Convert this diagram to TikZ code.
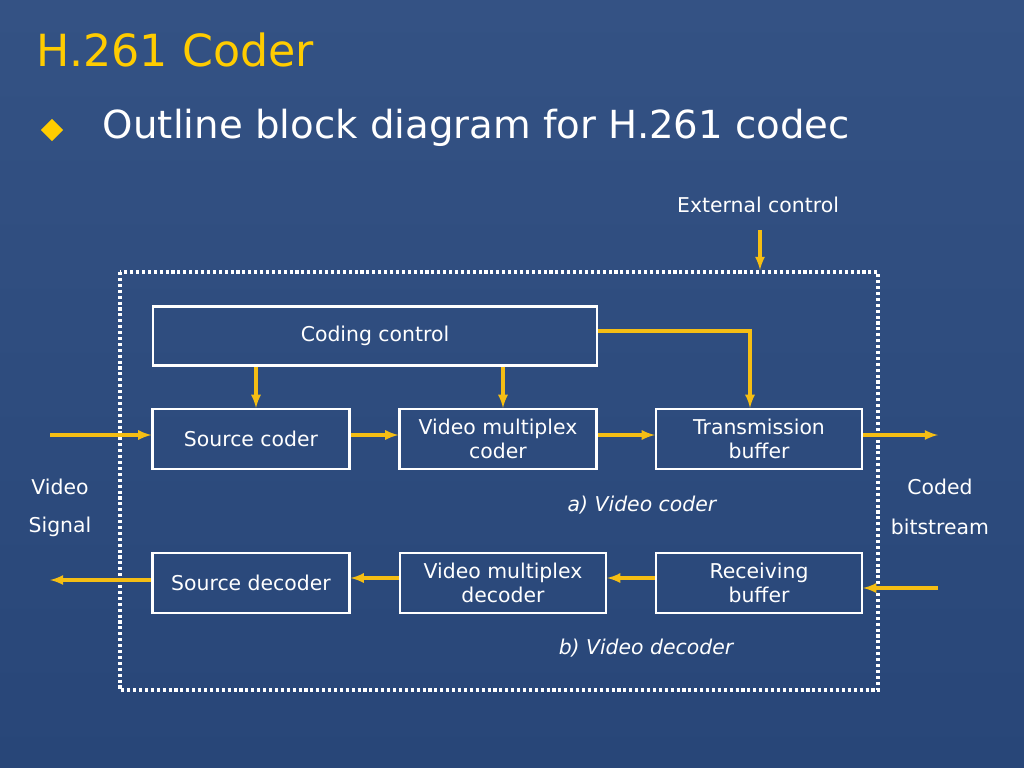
\documentclass[tikz,border=0pt]{standalone}
\usepackage{fontspec}
\setmainfont{DejaVu Sans}
\usetikzlibrary{positioning}
\usetikzlibrary{shapes.geometric}
\definecolor{bgtop}{RGB}{52,82,132}
\definecolor{bgbot}{RGB}{40,70,120}
\definecolor{ttl}{RGB}{255,204,0}
\definecolor{arr}{RGB}{245,190,20}
\begin{document}
\begin{tikzpicture}[x=0.025cm, y=-0.025cm, >=latex,
    blk/.style={rectangle, draw=white, line width=1.6pt, fill=none,
      text=white, align=center, font=\fontsize{14.5}{17}\selectfont, inner sep=1pt},
    lbl/.style={text=white, font=\fontsize{14.5}{17}\selectfont},
    ar/.style={->, draw=arr, line width=2.2pt},
  ]
\fill[top color=bgtop, bottom color=bgbot] (0,0) rectangle (1024,768);
\useasboundingbox (0,0) rectangle (1024,768);
% Title
\node(title)[anchor=west, text=ttl, font=\fontsize{31.5}{34}\selectfont] at (32,50) {H.261 Coder};
\node(bul)[diamond, fill=ttl, inner sep=0pt, minimum size=16pt] at (52,130) {};
\node(sub)[anchor=west, text=white, font=\fontsize{27.5}{30}\selectfont] at (98,128) {Outline block diagram for H.261 codec};
% Frame
\draw[white, line width=2.2pt, dotted] (120,272) rectangle (878,690);
% Blocks
\node(cc)[blk, minimum width=444*0.025cm, minimum height=59*0.025cm] at (375,336) {Coding control};
\node(sc)[blk, minimum width=197*0.025cm, minimum height=60*0.025cm] at (251,439) {Source coder};
\node(vmc)[blk, minimum width=197*0.025cm, minimum height=60*0.025cm] at (498,439) {Video multiplex\\coder};
\node(tb)[blk, minimum width=206*0.025cm, minimum height=60*0.025cm] at (759,439) {Transmission\\buffer};
\node(sd)[blk, minimum width=197*0.025cm, minimum height=60*0.025cm] at (251,583) {Source decoder};
\node(vmd)[blk, minimum width=206*0.025cm, minimum height=60*0.025cm] at (503,583) {Video multiplex\\decoder};
\node(rb)[blk, minimum width=206*0.025cm, minimum height=60*0.025cm] at (759,583) {Receiving\\buffer};
% Labels
\node(ext)[lbl] at (758,205) {External control};
\node(vid)[lbl] at (60,487) {Video};
\node(sig)[lbl] at (60,527) {Signal};
\node(cod)[lbl] at (940,487) {Coded};
\node(bit)[lbl] at (940,527) {bitstream};
\node(ca)[lbl, font=\fontsize{14.5}{17}\selectfont\itshape] at (642,505) {a) Video coder};
\node(cb)[lbl, font=\fontsize{14.5}{17}\selectfont\itshape] at (646,648) {b) Video decoder};
\coordinate(extin) at (760,230);
\coordinate(vin) at (50,435);
\coordinate(bout) at (938,435);
\coordinate(bin) at (938,588);
\coordinate(vout) at (50,580);
% Arrows
\draw[ar] (extin) -- (760,270);
\draw[ar] (cc.south -| 256,0) -- (sc.north -| 256,0);
\draw[ar] (cc.south -| 503,0) -- (vmc.north -| 503,0);
\draw[ar] (cc.east |- 0,331) -| (tb.north -| 750,0);
\draw[ar] (vin) -- (sc.west |- vin);
\draw[ar] (sc.east |- vin) -- (vmc.west |- vin);
\draw[ar] (vmc.east |- vin) -- (tb.west |- vin);
\draw[ar] (tb.east |- vin) -- (bout);
\draw[ar] (bin) -- (rb.east |- bin);
\draw[ar] (rb.west |- 0,578) -- (vmd.east |- 0,578);
\draw[ar] (vmd.west |- 0,578) -- (sd.east |- 0,578);
\draw[ar] (sd.west |- vout) -- (vout);
\end{tikzpicture}
\end{document}
